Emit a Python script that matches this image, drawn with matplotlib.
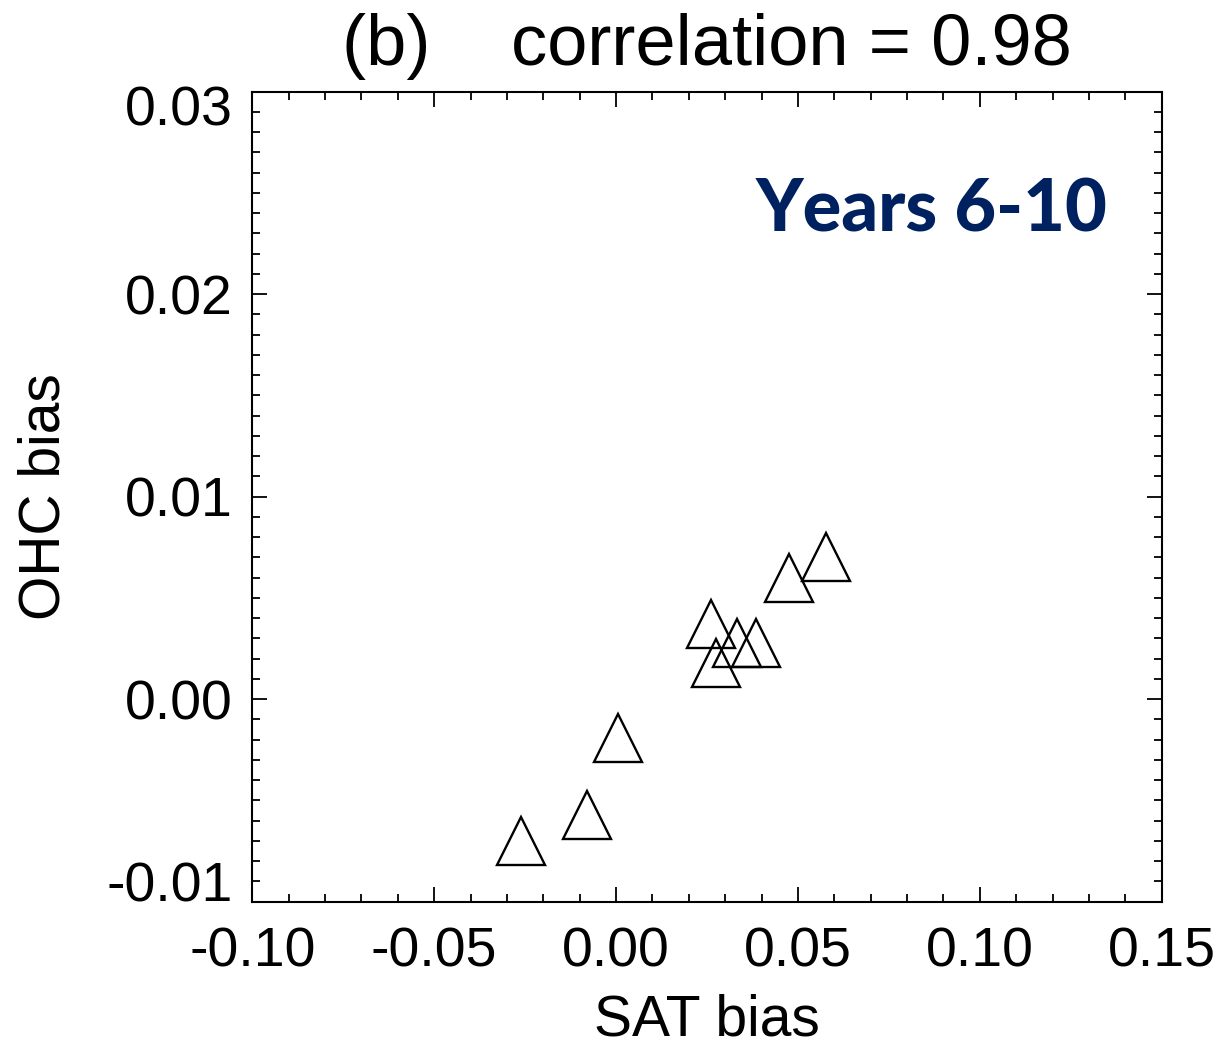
import matplotlib
matplotlib.use("Agg")
import matplotlib.pyplot as plt
from matplotlib.ticker import MultipleLocator
from matplotlib.markers import MarkerStyle
from matplotlib.transforms import ScaledTranslation

# Data
sat_bias = [-0.0262, -0.0079, 0.0006, 0.0260, 0.0274, 0.0332, 0.0385, 0.0475, 0.0576]
ohc_bias = [-0.0070, -0.0057, -0.0019, 0.0037, 0.0018, 0.0028, 0.0028, 0.0060, 0.0070]
x_ticks = [-0.10, -0.05, 0.00, 0.05, 0.10, 0.15]
y_ticks = [-0.01, 0.00, 0.01, 0.02, 0.03]
x_ticklabels = ["-0.10", "-0.05", "0.00", "0.05", "0.10", "0.15"]
y_ticklabels = ["-0.01", "0.00", "0.01", "0.02", "0.03"]
title_text = "(b)    correlation = 0.98"
panel_text = "Years 6-10"

plt.rcParams['font.family'] = ['Liberation Sans', 'DejaVu Sans']

W, H = 1223, 1045
fig = plt.figure(figsize=(W / 100, H / 100), dpi=100)
L, R, T, B = 252.3, 1161.7, 91.7, 901.7
ax = fig.add_axes([L / W, 1 - B / H, (R - L) / W, (B - T) / H])

ax.plot(sat_bias, ohc_bias, linestyle='none',
        marker=MarkerStyle('^', joinstyle='miter'), markersize=34,
        markerfacecolor='none', markeredgecolor='black', markeredgewidth=1.7,
        clip_on=False)

ax.set_xlim(-0.10, 0.15)
ax.set_ylim(-0.01, 0.03)
ax.set_xticks(x_ticks)
ax.set_xticklabels(x_ticklabels)
ax.set_yticks(y_ticks)
ax.set_yticklabels(y_ticklabels)
ax.xaxis.set_minor_locator(MultipleLocator(0.01))
ax.yaxis.set_minor_locator(MultipleLocator(0.001))

for s in ax.spines.values():
    s.set_linewidth(1.5)
ax.tick_params(which='both', direction='in', top=True, right=True, width=1.3)
ax.tick_params(which='major', length=11, labelsize=40)
ax.tick_params(which='minor', length=5.5)
ax.tick_params(axis='x', which='major', pad=18)
ax.tick_params(axis='y', which='major', pad=14)

ytl = ax.yaxis.get_major_ticks()
ytl[0].label1.set_verticalalignment('baseline')
ytl[-1].label1.set_verticalalignment('baseline')
ytl[-1].label1.set_transform(ytl[-1].label1.get_transform()
                             + ScaledTranslation(0, -0.34, fig.dpi_scale_trans))

ax.set_xlabel("SAT bias", fontsize=41)
ax.set_ylabel("OHC bias", fontsize=41)
ax.xaxis.set_label_coords(0.5, -0.113)
ax.yaxis.set_label_coords(-0.199, 0.5)

ax.set_title(title_text, fontsize=52, pad=19.5)

ax.text((1108 - L) / (R - L), (B - 232) / (B - T), panel_text,
        transform=ax.transAxes, ha='right', va='baseline',
        fontsize=52, fontweight='black', family=['Lato', 'DejaVu Sans'],
        color='#00215F')

fig.savefig("out.png", dpi=100)
